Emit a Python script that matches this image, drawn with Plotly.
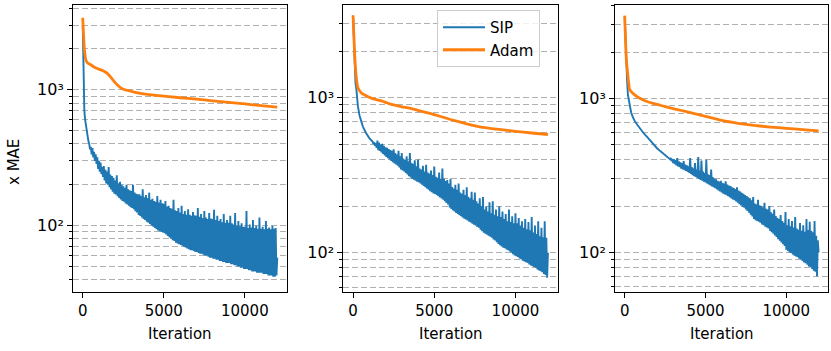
import plotly.graph_objects as go

# ---------------- data ----------------
# Panel 1 SIP: every 50 iterations
iters_sip_1 = list(range(0, 12001, 50))
sip_1 = [3000, 1100, 700, 600, 540, 490, 445, 420, 400, 365,
         380, 335, 372, 318, 350, 300, 335, 285, 318, 262,
         300, 250, 292, 240, 270, 228, 275, 215, 258, 205,
         250, 200, 270, 192, 238, 185, 232, 178, 225, 172,
         215, 170, 235, 165, 205, 160, 210, 156, 200, 152,
         195, 150, 190, 146, 200, 143, 185, 140, 182, 137,
         180, 135, 200, 132, 175, 128, 172, 125, 170, 120,
         170, 118, 165, 115, 185, 112, 162, 110, 168, 107,
         160, 105, 175, 103, 155, 100, 158, 98, 152, 96,
         150, 94, 165, 92, 148, 91, 155, 90, 146, 89,
         145, 88, 152, 86, 138, 84, 140, 82, 135, 80,
         133, 78, 155, 77, 130, 75, 128, 74, 135, 73,
         125, 72, 140, 71, 122, 70, 128, 69, 120, 68,
         132, 67, 120, 66, 118, 66, 126, 65, 119, 64,
         118, 64, 135, 63, 116, 62, 122, 62, 114, 61,
         128, 60, 115, 60, 112, 59, 124, 58, 113, 58,
         112, 57, 131, 57, 110, 56, 118, 56, 108, 55,
         112, 55, 106, 54, 122, 54, 105, 53, 110, 53,
         105, 53, 118, 52, 104, 52, 102, 51, 124, 51,
         100, 50, 108, 50, 99, 49, 104, 49, 98, 48,
         98, 48, 128, 48, 96, 47, 102, 47, 97, 46,
         110, 46, 96, 46, 100, 45, 95, 45, 115, 45,
         95, 45, 98, 44, 94, 44, 108, 44, 95, 43,
         97, 43, 94, 43, 100, 42, 95, 42, 96, 43, 58]

# Panel 2 SIP: sparse on the smooth start, every 50 iterations once noisy
iters_sip_2 = [0, 50, 100, 150, 200, 300, 400, 500, 600, 800, 1000, 1200] + list(range(1250, 12001, 50))
sip_2 = [3400, 2200, 1500, 1250, 1150, 880, 770, 705, 655, 592, 550, 522,
         505, 518, 490, 510, 475,
         530, 460, 515, 455, 500, 445, 505, 435, 490, 425,
         480, 415, 475, 408, 468, 400, 460, 392, 455, 385,
         465, 378, 440, 372, 430, 365, 455, 355, 420, 345,
         440, 340, 405, 335, 398, 328, 420, 320, 390, 312,
         440, 306, 380, 300, 375, 296, 395, 292, 362, 288,
         400, 285, 350, 280, 345, 275, 365, 270, 335, 265,
         370, 260, 330, 255, 325, 250, 340, 246, 318, 242,
         360, 240, 310, 236, 305, 232, 330, 228, 300, 224,
         350, 220, 300, 215, 290, 210, 295, 205, 280, 196,
         300, 192, 266, 188, 260, 185, 275, 181, 255, 178,
         280, 175, 245, 172, 240, 169, 255, 166, 236, 164,
         265, 162, 230, 159, 225, 157, 248, 154, 220, 152,
         245, 150, 215, 147, 208, 145, 225, 141, 200, 138,
         229, 135, 190, 133, 200, 131, 185, 129, 212, 127,
         180, 125, 215, 122, 176, 120, 190, 117, 172, 114,
         200, 112, 170, 110, 185, 108, 165, 107, 178, 105,
         160, 104, 190, 102, 158, 100, 172, 98, 155, 96,
         180, 95, 155, 94, 168, 92, 150, 91, 160, 89,
         145, 88, 165, 87, 142, 86, 158, 84, 140, 83,
         170, 82, 135, 81, 150, 80, 132, 78, 160, 77,
         128, 76, 145, 75, 126, 73, 160, 72, 125, 69, 100]

# Panel 3 SIP
iters_sip_3 = [0, 50, 100, 150, 200, 300, 400, 500, 600, 800, 1000, 1200, 1400, 1600, 1800,
               2000, 2200, 2400, 2600, 2800] + list(range(2850, 12001, 50))
sip_3 = [3400, 2300, 1700, 1300, 1050, 900, 810, 760, 720, 670, 625, 590, 560, 530, 495,
         475, 455, 437, 420, 403,
         410, 392, 405, 380,
         402, 375, 398, 368, 410, 362, 390, 358, 385, 350,
         380, 346, 392, 342, 372, 338, 368, 333, 362, 328,
         410, 323, 358, 318, 352, 313, 380, 309, 345, 305,
         417, 300, 340, 296, 395, 292, 335, 288, 328, 285,
         400, 280, 322, 276, 318, 272, 345, 268, 308, 265,
         302, 261, 298, 257, 292, 253, 288, 249, 292, 245,
         283, 241, 280, 238, 290, 235, 276, 232, 272, 228,
         270, 224, 265, 221, 262, 218, 258, 214, 265, 210,
         252, 206, 248, 202, 244, 198, 240, 195, 236, 190,
         232, 186, 228, 181, 225, 176, 218, 171, 229, 165,
         208, 162, 205, 160, 220, 158, 202, 156, 200, 152,
         196, 150, 210, 147, 192, 145, 190, 143, 200, 138,
         182, 135, 178, 132, 190, 129, 172, 126, 168, 122,
         165, 119, 175, 116, 160, 113, 156, 110, 183, 104,
         150, 102, 165, 100, 148, 99, 160, 97, 145, 95,
         170, 94, 143, 93, 140, 91, 155, 90, 138, 88,
         150, 86, 136, 85, 165, 83, 140, 81, 158, 80,
         138, 78, 135, 76, 160, 75, 128, 70, 120, 100]

iters_adam = [0, 100, 200, 300, 500, 750, 1000, 1250, 1500, 1750, 2000, 2250, 2500, 3000, 3500, 4000,
              5000, 6000, 7000, 8000, 9000, 10000, 11000, 12000]
adam_1 = [3400, 2000, 1650, 1580, 1530, 1460, 1420, 1385, 1330, 1230, 1130, 1055, 1010, 975, 945, 925,
          900, 875, 855, 830, 808, 788, 765, 745]
adam_2 = [3400, 1900, 1350, 1160, 1080, 1040, 1010, 985, 970, 955, 935, 915, 900, 875, 858, 830,
          780, 725, 680, 645, 625, 608, 593, 580]
adam_3 = [3450, 1800, 1400, 1150, 1080, 1030, 995, 965, 945, 930, 915, 900, 885, 860, 835, 812,
          765, 720, 690, 668, 652, 640, 628, 615]

assert len(iters_sip_1) == len(sip_1), (len(iters_sip_1), len(sip_1))
assert len(iters_sip_2) == len(sip_2), (len(iters_sip_2), len(sip_2))
assert len(iters_sip_3) == len(sip_3), (len(iters_sip_3), len(sip_3))

x_ticks = [0, 5000, 10000]
x_tick_text = ["0", "5000", "10000"]
y_major = [100, 1000]
y_major_text = ["10²", "10³"]
y_minor = [20, 30, 40, 50, 60, 70, 80, 90, 200, 300, 400, 500, 600, 700, 800, 900, 2000, 3000, 4000]

BLUE = "#1f77b4"
ORANGE = "#ff7f0e"
FONT = "DejaVu Sans"

# ---------------- layout geometry ----------------
W, H = 831, 351
x_domains = [(73, 287), (343.3, 557.7), (615, 828.3)]
y_top, y_bot = 5, 291.5
y_ranges = [(1.515, 3.625), (1.7505, 3.599), (1.746, 3.607)]

fig = go.Figure()
sip_x = [iters_sip_1, iters_sip_2, iters_sip_3]
sip_y = [sip_1, sip_2, sip_3]
adams = [adam_1, adam_2, adam_3]
for k in range(3):
    suffix = "" if k == 0 else str(k + 1)
    fig.add_trace(go.Scatter(x=sip_x[k], y=sip_y[k], mode="lines", name="SIP",
                             line=dict(color=BLUE, width=1.9), showlegend=(k == 1),
                             xaxis="x" + suffix, yaxis="y" + suffix))
    fig.add_trace(go.Scatter(x=iters_adam, y=adams[k], mode="lines", name="Adam",
                             line=dict(color=ORANGE, width=2.8, shape="spline", smoothing=0.4),
                             showlegend=(k == 1),
                             xaxis="x" + suffix, yaxis="y" + suffix))

layout = dict(
    width=W, height=H,
    margin=dict(l=0, r=0, t=0, b=0),
    paper_bgcolor="white", plot_bgcolor="white",
    font=dict(family=FONT, size=15, color="black"),
    showlegend=True,
    legend=dict(x=437 / W, y=1 - 10 / H, xanchor="left", yanchor="top",
                itemwidth=42, tracegroupgap=0,
                bgcolor="rgba(255,255,255,0.8)", bordercolor="#cccccc", borderwidth=1,
                font=dict(family=FONT, size=15, color="black")),
)

for k in range(3):
    suffix = "" if k == 0 else str(k + 1)
    x0, x1 = x_domains[k]
    layout["xaxis" + suffix] = dict(
        domain=[x0 / W, x1 / W], anchor="y" + suffix, range=[-600, 12600],
        tickmode="array", tickvals=x_ticks, ticktext=x_tick_text,
        ticks="outside", ticklen=5, tickwidth=1, tickcolor="black",
        showline=True, linecolor="black", linewidth=1, mirror=True,
        showgrid=False, zeroline=False,
        tickfont=dict(family=FONT, size=15, color="black"),
    )
    layout["yaxis" + suffix] = dict(
        domain=[1 - y_bot / H, 1 - y_top / H], anchor="x" + suffix, type="log",
        range=list(y_ranges[k]),
        tickmode="array", tickvals=y_major, ticktext=y_major_text,
        ticks="outside", ticklen=5, tickwidth=1, tickcolor="black",
        showline=True, linecolor="black", linewidth=1, mirror=True,
        showgrid=True, gridcolor="#b0b0b0", gridwidth=1, griddash="6px,3px",
        zeroline=False,
        tickfont=dict(family=FONT, size=16, color="black"),
        minor=dict(tickmode="array", tickvals=y_minor, ticks="outside", ticklen=3,
                   tickwidth=1, tickcolor="black", showgrid=True,
                   gridcolor="#b0b0b0", gridwidth=1, griddash="6px,3px"),
    )

annotations = [
    dict(text="x MAE", x=14 / W, y=1 - 162 / H, xref="paper", yref="paper",
         textangle=-90, showarrow=False, font=dict(family=FONT, size=15, color="black"),
         xanchor="center", yanchor="middle"),
]
for k in range(3):
    x0, x1 = x_domains[k]
    annotations.append(dict(text="Iteration", x=(x0 + x1) / 2 / W, y=1 - 334 / H,
                            xref="paper", yref="paper", showarrow=False,
                            font=dict(family=FONT, size=15, color="black"),
                            xanchor="center", yanchor="middle"))
layout["annotations"] = annotations

fig.update_layout(**layout)
fig.write_html("out.html", config={"displayModeBar": False},
               post_script="document.body.style.margin='0';document.body.style.padding='0';")
